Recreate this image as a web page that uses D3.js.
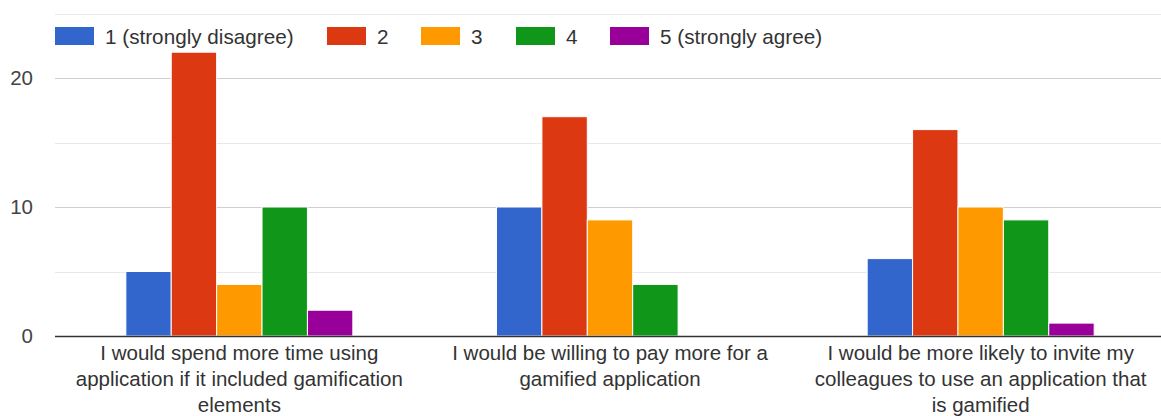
<!DOCTYPE html>
<html>
<head>
<meta charset="utf-8">
<script src="https://cdn.jsdelivr.net/npm/d3@7"></script>
<style>
  body { margin: 0; background: #fff; }
  svg { display: block; font-family: Arial, "Liberation Sans", sans-serif; }
</style>
</head>
<body>
<div class="chart"></div>
<script>
// Data
var categories = [
  "I would spend more time using application if it included gamification elements",
  "I would be willing to pay more for a gamified application",
  "I would be more likely to invite my colleagues to use an application that is gamified"
];
// wrapped lines as shown under the axis
var categoryLines = [
  ["I would spend more time using", "application if it included gamification", "elements"],
  ["I would be willing to pay more for a", "gamified application"],
  ["I would be more likely to invite my", "colleagues to use an application that", "is gamified"]
];
var seriesNames = ["1 (strongly disagree)", "2", "3", "4", "5 (strongly agree)"];
var seriesColors = ["#3366cc", "#dc3912", "#ff9900", "#109618", "#990099"];
// values[series][category]
var values = [
  [5, 10, 6],
  [22, 17, 16],
  [4, 9, 10],
  [10, 4, 9],
  [2, 0, 1]
];
var yTicks = [0, 10, 20];
var yGrid = [5, 10, 15, 20, 25];

//Size of the page
var width = 1161,
	height = 416;

var svg = d3.select(".chart")
			.append("svg")
			.attr("width", width)
			.attr("height", height);

//Scales
var x0 = d3.scaleBand()
			.domain(categories)
			.range([54, 1166]);

var groupWidth = 227;
var x1 = d3.scaleBand()
			.domain(seriesNames)
			.range([-groupWidth / 2, groupWidth / 2])
			.padding(0);

var y = d3.scaleLinear()
			.domain([0, 25])
			.range([336, 13.5]);

//Gridlines
svg.selectAll(".grid")
	.data(yGrid)
	.enter()
	.append("line")
	.attr("class", "grid")
	.attr("x1", 55)
	.attr("x2", width)
	.attr("y1", function(d){ return Math.round(y(d)) + 0.5; })
	.attr("y2", function(d){ return Math.round(y(d)) + 0.5; })
	.style("stroke", function(d){ return d % 10 == 0 ? "#cfcfcf" : "#e8e8e8"; })
	.style("stroke-width", 1.2);

//Tick labels
svg.selectAll(".ytick")
	.data(yTicks)
	.enter()
	.append("text")
	.attr("class", "ytick")
	.attr("x", 33)
	.attr("y", function(d){ return y(d); })
	.attr("dy", "0.35em")
	.attr("text-anchor", "end")
	.style("font-size", "20.5px")
	.style("fill", "#444")
	.text(function(d){ return d; });

//Bars
var groups = svg.selectAll(".group")
	.data(categories)
	.enter()
	.append("g")
	.attr("class", "group")
	.attr("transform", function(d){
		return "translate(" + (x0(d) + x0.bandwidth() / 2) + ",0)";
	});

groups.selectAll("rect")
	.data(function(d, i){
		return seriesNames.map(function(s, k){ return {series: s, k: k, value: values[k][i]}; });
	})
	.enter()
	.filter(function(d){ return d.value > 0; })
	.append("rect")
	.attr("x", function(d){ return x1(d.series); })
	.attr("width", x1.bandwidth())
	.attr("y", function(d){ return y(d.value); })
	.attr("height", function(d){ return y(0) - y(d.value); })
	.style("fill", function(d){ return seriesColors[d.k]; })
	.style("stroke", "#fff")
	.style("stroke-width", 1);

//Baseline
svg.append("line")
	.attr("x1", 55)
	.attr("x2", width)
	.attr("y1", y(0) + 0.5)
	.attr("y2", y(0) + 0.5)
	.style("stroke", "#333")
	.style("stroke-width", 1.6);

//Category labels
groups.append("text")
	.attr("text-anchor", "middle")
	.style("font-size", "20.5px")
	.style("fill", "#333")
	.selectAll("tspan")
	.data(function(d, i){ return categoryLines[i]; })
	.enter()
	.append("tspan")
	.attr("x", 0)
	.attr("y", function(d, j){ return 360 + j * 26; })
	.text(function(d){ return d; });

//Legend
var legendX = [55, 327, 421, 516, 610];
var legend = svg.selectAll(".legend")
	.data(seriesNames)
	.enter()
	.append("g")
	.attr("class", "legend")
	.attr("transform", function(d, i){ return "translate(" + legendX[i] + ",0)"; });

legend.append("rect")
	.attr("x", 0)
	.attr("y", 27)
	.attr("width", 39)
	.attr("height", 18)
	.style("fill", function(d, i){ return seriesColors[i]; });

legend.append("text")
	.attr("x", 50)
	.attr("y", 44)
	.style("font-size", "20.7px")
	.style("fill", "#333")
	.text(function(d){ return d; });
</script>
</body>
</html>
